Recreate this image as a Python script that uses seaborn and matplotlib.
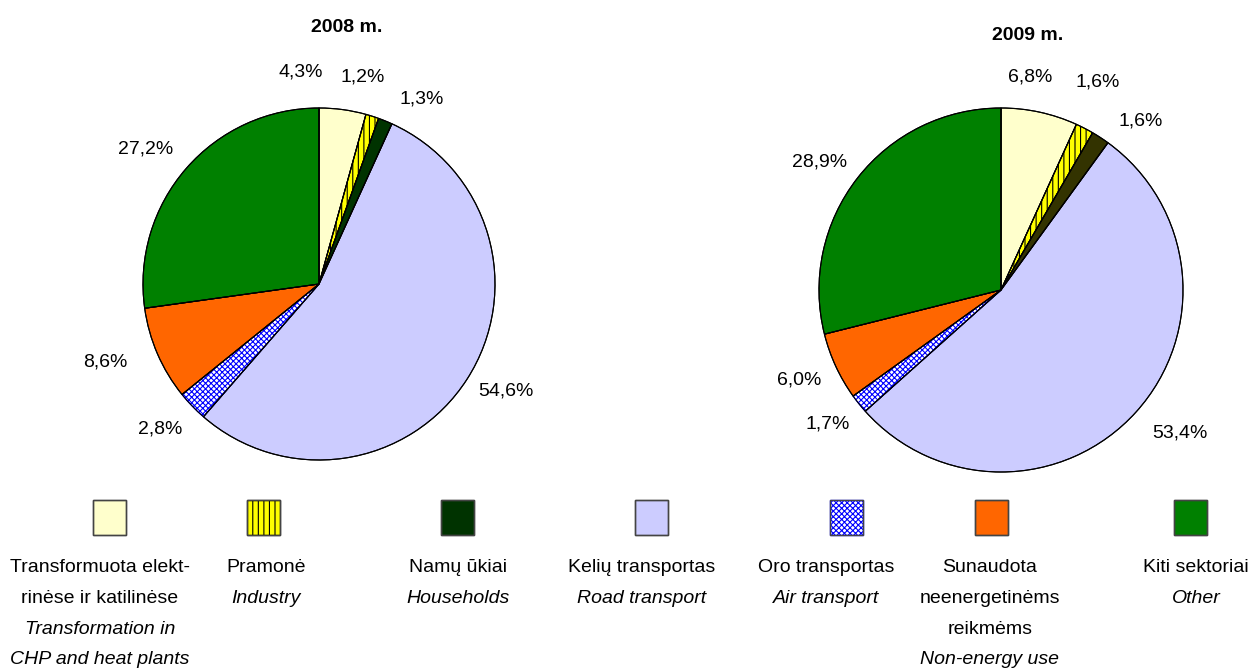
import numpy as np
import matplotlib
matplotlib.use('Agg')
import matplotlib.pyplot as plt
import seaborn as sns
from matplotlib.patches import Rectangle

sns.set_theme(style='white')
plt.rcParams['font.family'] = ['Liberation Sans', 'DejaVu Sans']
plt.rcParams['hatch.linewidth'] = 0.8
plt.rcParams['text.color'] = 'black'

# ---- data ----
categories_lt = [["Transformuota elekt-", "rinėse ir katilinėse"],
                 ["Pramonė"], ["Namų ūkiai"], ["Kelių transportas"],
                 ["Oro transportas"], ["Sunaudota", "neenergetinėms", "reikmėms"],
                 ["Kiti sektoriai"]]
categories_en = [["Transformation in", "CHP and heat plants"],
                 ["Industry"], ["Households"], ["Road transport"],
                 ["Air transport"], ["Non-energy use"], ["Other"]]
titles = ["2008 m.", "2009 m."]
values_2008 = [4.3, 1.2, 1.3, 54.6, 2.8, 8.6, 27.2]
values_2009 = [6.8, 1.6, 1.6, 53.4, 1.7, 6.0, 28.9]

# ---- style ----
colors_2008 = ['#FFFFCC', '#FFFF00', '#003300', '#CCCCFF', '#FFFFFF', '#FF6600', '#008000']
colors_2009 = ['#FFFFCC', '#FFFF00', '#333300', '#CCCCFF', '#FFFFFF', '#FF6600', '#008000']
hatches = [None, '|||', None, None, 'xxxxxx', None, None]
hatch_colors = ['black', 'black', 'black', 'black', '#0000FF', 'black', 'black']
FS = 14

W, H = 1250, 671
fig = plt.figure(figsize=(12.5, 6.71), dpi=100)

# background layer in pixel coordinates for legend / titles
lax = fig.add_axes([0, 0, 1, 1])
lax.set_xlim(0, W)
lax.set_ylim(H, 0)
lax.set_axis_off()


def pie_axes(cx, cy, r):
    ax = fig.add_axes([(cx - r) / W, (H - cy - r) / H, 2 * r / W, 2 * r / H])
    return ax


def draw_pie(ax, values, colors, offsets, dist=1.23):
    wedges, _ = ax.pie(values, colors=colors, startangle=90, counterclock=False,
                       radius=1, wedgeprops=dict(edgecolor='black', linewidth=0.8))
    for w, h, hc in zip(wedges, hatches, hatch_colors):
        if h:
            w.set_hatch(h)
            w.set_edgecolor(hc)
    # black outlines on top
    ax.pie(values, startangle=90, counterclock=False, radius=1,
           wedgeprops=dict(fill=False, edgecolor='black', linewidth=0.8))
    ax.set_xlim(-1, 1)
    ax.set_ylim(-1, 1)
    ax.set_aspect('auto')
    ax.set_axis_off()
    for w, v, off in zip(wedges, values, offsets):
        ang = np.deg2rad((w.theta1 + w.theta2) / 2)
        x, y = dist * np.cos(ang), dist * np.sin(ang)
        ax.annotate(f"{v:.1f}%".replace('.', ','), (x, y), xytext=off,
                    textcoords='offset pixels', ha='center', va='center',
                    fontsize=FS, annotation_clip=False)


ax1 = pie_axes(319, 284, 176)
draw_pie(ax1, values_2008, colors_2008,
         [(-47, -3), (-22, 1), (21, -16), (5, 10), (-3, 5), (-15, 8), (-10, -7)])
ax2 = pie_axes(1001, 290, 182)
draw_pie(ax2, values_2009, colors_2009,
         [(-18, -6), (-6, 9), (17, -18), (13, 7), (1, 6), (1, 4), (-5, -10)])

lax.text(347, 28, titles[0], ha='center', va='center', fontsize=FS, fontweight='bold')
lax.text(1028, 35, titles[1], ha='center', va='center', fontsize=FS, fontweight='bold')

# ---- legend ----
box_x = [109, 263, 457, 651, 846, 991, 1190]
text_x = [100, 266, 458, 642, 826, 990, 1196]
for i in range(len(categories_lt)):
    fc = colors_2008[i]
    rect = Rectangle((box_x[i] - 16, 500), 33, 35, facecolor=fc,
                     edgecolor=hatch_colors[i] if hatches[i] else '#444444',
                     linewidth=1.0, hatch=hatches[i])
    lax.add_patch(rect)
    lax.add_patch(Rectangle((box_x[i] - 16, 500), 33, 35, fill=False,
                            edgecolor='#444444', linewidth=1.0))
    y = 568
    for line in categories_lt[i]:
        lax.text(text_x[i], y, line, ha='center', va='center', fontsize=FS)
        y += 30.5
    for line in categories_en[i]:
        lax.text(text_x[i], y, line, ha='center', va='center', fontsize=FS, style='italic')
        y += 30.5

fig.savefig('out.png', dpi=100)
